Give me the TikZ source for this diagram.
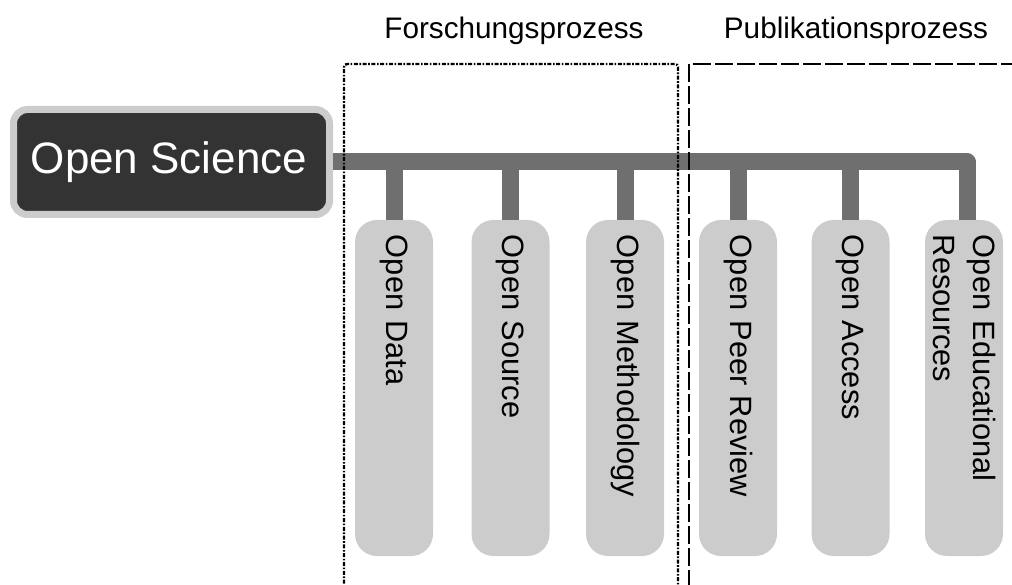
\documentclass[tikz,border=0pt]{standalone}
\usepackage{fontspec}
\setmainfont{Liberation Sans}
\definecolor{barc}{HTML}{6F6F6F}
\definecolor{boxc}{HTML}{CCCCCC}
\definecolor{darkc}{HTML}{333333}
\begin{document}
\begin{tikzpicture}[x=1pt,y=-1pt,
  conn/.style={draw=barc, line width=17pt, line join=round},
  rootbox/.style={fill=darkc, draw=boxc, line width=7pt, rounded corners=14pt,
    minimum width=316pt, minimum height=105pt, text=white,
    font=\fontsize{44}{50}\selectfont},
  vbox/.style={rotate=-90, fill=boxc, rounded corners=22pt,
    minimum width=336pt, minimum height=78pt, text width=306pt,
    inner xsep=15pt, inner ysep=0pt, align=left,
    font=\fontsize{30.8}{40}\selectfont},
  phase/.style={font=\fontsize{29.7}{34}\selectfont, anchor=base},
  dashdotframe/.style={line width=2.4pt, dash pattern=on 4pt off 1.6pt on 1.6pt off 1.6pt, rounded corners=3pt},
  dashframe/.style={line width=2.4pt, dash pattern=on 18pt off 4pt}
]
\useasboundingbox (0,0) rectangle (1012,585);
\clip (0,0) rectangle (1012,585);

\node[rootbox] (os) at (171.5,162) {\hspace*{-5pt}Open Science};

\node[vbox] (b1) at (394,388) {Open Data};
\node[vbox] (b2) at (510.5,388) {Open Source};
\node[vbox] (b3) at (625,388) {Open Methodology};
\node[vbox] (b4) at (738,388) {Open Peer Review};
\node[vbox] (b5) at (850.5,388) {Open Access};
\node[vbox] (b6) at (964,388) {Open Educational\\Resources};

\draw[conn] (os.east) -- ([xshift=3pt]b6.west |- os.east) -- ([xshift=3pt]b6.west);
\foreach \b in {b1,b2,b3,b4,b5}{
  \draw[conn] (\b.west |- os.east) -- (\b.west);
}

\node[phase] (fp) at (514,39) {Forschungsprozess};
\node[phase] (pp) at (856,39) {Publikationsprozess};

\draw[dashdotframe] (344,610) -- (344,64) -- (678,64) -- (678,610);
\draw[dashframe] (689,610) -- (689,64) -- (1030,64);
\end{tikzpicture}
\end{document}
